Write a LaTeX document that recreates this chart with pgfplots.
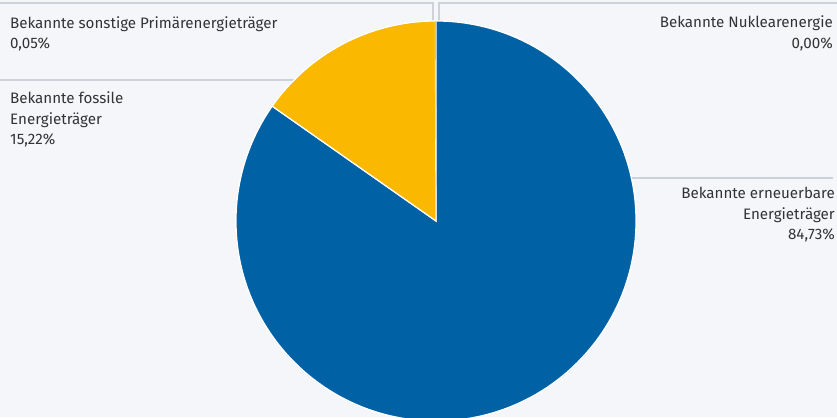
\documentclass[border=0pt]{standalone}
\usepackage{pgfplots}
\pgfplotsset{compat=1.18}
\usepackage{pgfplotstable}
\usepackage{fontspec}
\setmainfont{Fira Sans}
\definecolor{bg}{HTML}{F4F6FA}
\definecolor{pieblue}{HTML}{0062A5}
\definecolor{pieyellow}{HTML}{FBB800}
\definecolor{piegrey}{HTML}{9AA3AE}
\definecolor{leader}{HTML}{CDD2DA}
\definecolor{txt}{HTML}{333333}

% share of each energy carrier, in percent, clockwise from 12 o'clock
\pgfplotstableread[col sep=comma]{
label,value
Nuklear,0.00
Erneuerbar,84.73
Fossil,15.22
Sonstige,0.05
}\piedata

\pgfplotstablegetelem{0}{value}\of\piedata \edef\vNuk{\pgfplotsretval}
\pgfplotstablegetelem{1}{value}\of\piedata \edef\vRen{\pgfplotsretval}
\pgfplotstablegetelem{2}{value}\of\piedata \edef\vFos{\pgfplotsretval}
\pgfplotstablegetelem{3}{value}\of\piedata \edef\vSon{\pgfplotsretval}

\pgfmathsetmacro{\aA}{90-3.6*\vNuk}
\pgfmathsetmacro{\aB}{\aA-3.6*\vRen}
\pgfmathsetmacro{\aC}{\aB-3.6*\vFos}
\pgfmathsetmacro{\aD}{\aC-3.6*\vSon}

\tikzset{lab/.style={text=txt, inner sep=0pt, font=\fontsize{15.2}{18}\selectfont}}

\begin{document}
\begin{tikzpicture}
\begin{axis}[x=1bp, y=1bp, y dir=reverse,
  xmin=0, xmax=837, ymin=0, ymax=417,
  hide axis, scale only axis, clip=true]
\fill[bg] (axis cs:0,0) rectangle (axis cs:837,417);
% leader lines
\draw[leader, line width=1.3bp] (axis cs:0,3) -- (axis cs:433,3) -- (axis cs:433,21);
\draw[leader, line width=1.3bp] (axis cs:837,3) -- (axis cs:439,3) -- (axis cs:439,21);
\draw[leader, line width=1.3bp] (axis cs:0,80) -- (axis cs:294,80);
\draw[leader, line width=1.3bp] (axis cs:631,178) -- (axis cs:833,178);
% pie wedges
\filldraw[fill=pieblue, draw=white, line width=1.2bp] (axis cs:436,221) -- ++(\aA:200bp) arc[start angle=\aA, end angle=\aB, radius=200bp] -- cycle;
\filldraw[fill=pieyellow, draw=white, line width=1.2bp] (axis cs:436,221) -- ++(\aB:200bp) arc[start angle=\aB, end angle=\aC, radius=200bp] -- cycle;
\fill[piegrey] (axis cs:436,221) -- ++(\aC:200bp) arc[start angle=\aC, end angle=\aD, radius=200bp] -- cycle;
% labels
\node[lab, anchor=base west] at (axis cs:10,28) {Bekannte sonstige Primärenergieträger};
\node[lab, anchor=base west] at (axis cs:10,48) {0,05\%};
\node[lab, anchor=base west] at (axis cs:10,103) {Bekannte fossile};
\node[lab, anchor=base west] at (axis cs:10,124) {Energieträger};
\node[lab, anchor=base west] at (axis cs:10,144) {15,22\%};
\node[lab, anchor=base east] at (axis cs:833,27) {Bekannte Nuklearenergie};
\node[lab, anchor=base east] at (axis cs:833,48) {0,00\%};
\node[lab, anchor=base east] at (axis cs:835,198) {Bekannte erneuerbare};
\node[lab, anchor=base east] at (axis cs:835,219) {Energieträger};
\node[lab, anchor=base east] at (axis cs:835,239) {84,73\%};
\end{axis}
\pgfresetboundingbox
\useasboundingbox (current axis.south west) rectangle (current axis.north east);
\end{tikzpicture}
\end{document}
